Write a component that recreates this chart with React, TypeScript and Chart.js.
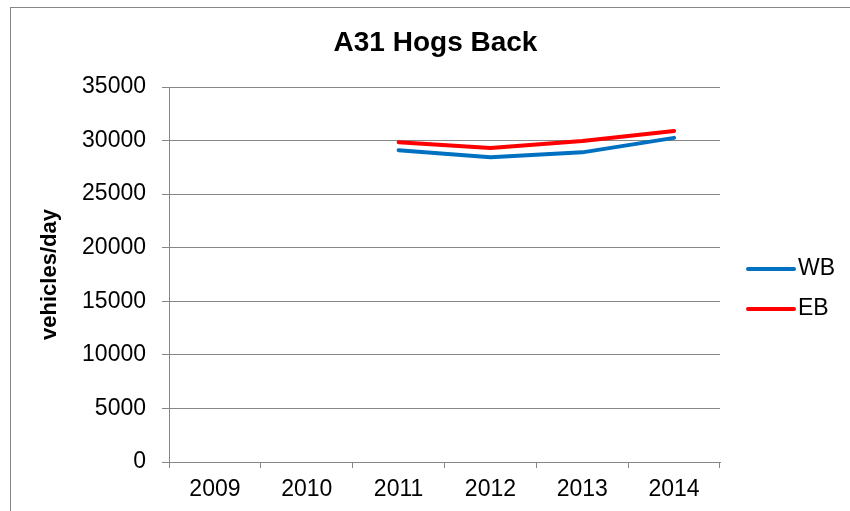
import { useEffect, useRef } from "react";
import { Chart, registerables } from "chart.js";

Chart.register(...registerables);

// ---- data ----
const CHART_TITLE = "A31 Hogs Back";
const Y_TITLE = "vehicles/day";
const YEARS = ["2009", "2010", "2011", "2012", "2013", "2014"];
const WB_COUNTS = [null, null, 29100, 28450, 28900, 30250];
const EB_COUNTS = [null, null, 29850, 29300, 29950, 30900];
const Y_TICKS = [0, 5000, 10000, 15000, 20000, 25000, 30000, 35000];

// ---- styling ----
const FONT = "'Liberation Sans', Arial, Helvetica, sans-serif";
const GRID = "#878787";
const WB_COLOR = "#0070C0";
const EB_COLOR = "#FF0000";

// White background plus the grey outline of the chart frame
const framePlugin = {
  id: "frame",
  beforeDraw(chart: any) {
    const { ctx, width, height } = chart;
    ctx.save();
    ctx.fillStyle = "#ffffff";
    ctx.fillRect(0, 0, width, height);
    ctx.strokeStyle = GRID;
    ctx.lineWidth = 1;
    ctx.strokeRect(10.5, 7.5, 851, height + 10);
    ctx.restore();
  },
};

// Title centred over the frame
const titlePlugin = {
  id: "frameTitle",
  afterDraw(chart: any) {
    const { ctx } = chart;
    ctx.save();
    ctx.font = `bold 28px ${FONT}`;
    ctx.fillStyle = "#000000";
    ctx.textAlign = "center";
    ctx.textBaseline = "middle";
    ctx.fillText(CHART_TITLE, 435.5, 43);
    ctx.restore();
  },
};

// Legend to the right of the plot: a short line sample and the series name
const sideLegendPlugin = {
  id: "sideLegend",
  afterDraw(chart: any) {
    const { ctx } = chart;
    const area = chart.chartArea;
    const x0 = area.right + 28;
    const lineLen = 46;
    const rowGap = 40;
    const firstRow = 269;
    ctx.save();
    ctx.font = `23px ${FONT}`;
    ctx.textBaseline = "middle";
    ctx.textAlign = "left";
    chart.data.datasets.forEach((ds: any, i: number) => {
      const y = firstRow + i * rowGap;
      ctx.strokeStyle = ds.borderColor;
      ctx.lineWidth = ds.borderWidth;
      ctx.lineCap = "round";
      ctx.beginPath();
      ctx.moveTo(x0, y);
      ctx.lineTo(x0 + lineLen, y);
      ctx.stroke();
      ctx.fillStyle = "#000000";
      ctx.fillText(ds.label, x0 + lineLen + 4, y);
    });
    ctx.restore();
  },
};

export default function App() {
  const canvasRef = useRef<HTMLCanvasElement | null>(null);

  useEffect(() => {
    const canvas = canvasRef.current;
    if (!canvas) return;
    const chart = new Chart(canvas, {
      type: "line",
      data: {
        labels: YEARS,
        datasets: [
          {
            label: "WB",
            data: WB_COUNTS,
            borderColor: WB_COLOR,
            backgroundColor: WB_COLOR,
            borderWidth: 4,
            pointRadius: 0,
            pointHoverRadius: 0,
            tension: 0,
            borderCapStyle: "round",
            borderJoinStyle: "round",
            spanGaps: false,
          },
          {
            label: "EB",
            data: EB_COUNTS,
            borderColor: EB_COLOR,
            backgroundColor: EB_COLOR,
            borderWidth: 4,
            pointRadius: 0,
            pointHoverRadius: 0,
            tension: 0,
            borderCapStyle: "round",
            borderJoinStyle: "round",
            spanGaps: false,
          },
        ],
      },
      options: {
        animation: false,
        responsive: false,
        maintainAspectRatio: false,
        events: [],
        layout: { padding: { top: 87, right: 130, bottom: 0, left: 0 } },
        plugins: {
          legend: { display: false },
          title: { display: false },
          tooltip: { enabled: false },
        },
        scales: {
          x: {
            type: "category",
            offset: true,
            grid: {
              offset: true,
              drawOnChartArea: false,
              drawTicks: true,
              tickLength: 6,
              color: GRID,
            },
            border: { display: true, color: GRID, width: 1 },
            ticks: {
              color: "#000000",
              font: { family: FONT, size: 23 },
              padding: 8,
              maxRotation: 0,
              autoSkip: false,
            },
            afterFit: (scale: any) => {
              scale.height = 49;
            },
          },
          y: {
            type: "linear",
            min: Y_TICKS[0],
            max: Y_TICKS[Y_TICKS.length - 1],
            afterBuildTicks: (scale: any) => {
              scale.ticks = Y_TICKS.map((v) => ({ value: v }));
            },
            grid: {
              color: GRID,
              drawTicks: true,
              tickLength: 7,
            },
            border: { display: true, color: GRID, width: 1 },
            ticks: {
              color: "#000000",
              font: { family: FONT, size: 23 },
              padding: 16,
              callback: (v: any) => String(v),
            },
            title: {
              display: true,
              text: Y_TITLE,
              color: "#000000",
              font: { family: FONT, size: 22, weight: "bold" },
              padding: { top: 37, bottom: 0 },
            },
            afterFit: (scale: any) => {
              scale.width = 169;
            },
          },
        },
      },
      plugins: [framePlugin, titlePlugin, sideLegendPlugin],
    });
    return () => chart.destroy();
  }, []);

  return (
    <div style={{ position: "fixed", left: 0, top: 0, width: 850, height: 511, background: "#ffffff" }}>
      <canvas ref={canvasRef} width={850} height={511} style={{ display: "block" }} />
    </div>
  );
}
